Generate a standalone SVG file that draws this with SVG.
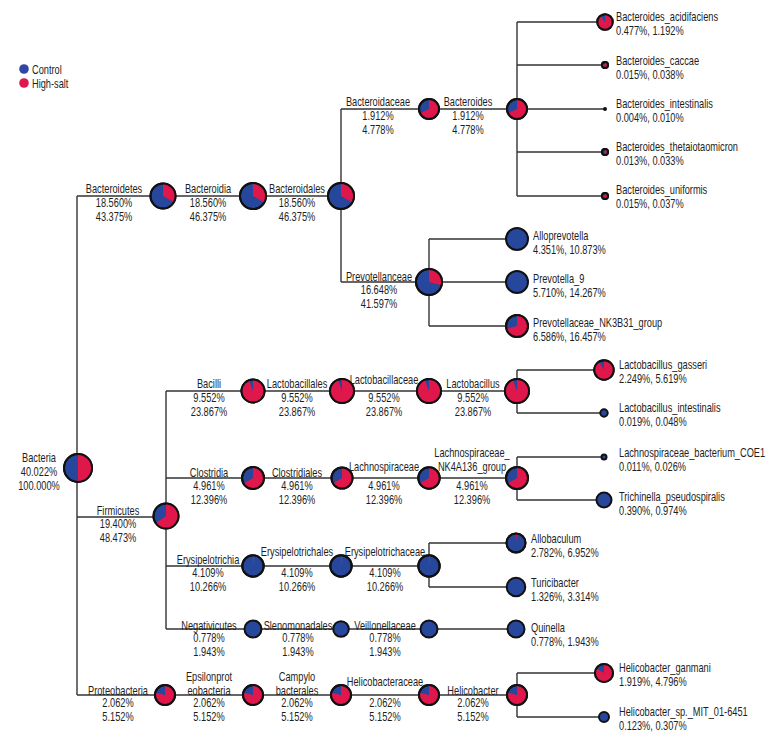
<svg xmlns="http://www.w3.org/2000/svg" width="780" height="744" viewBox="0 0 780 744">
<style>
.bg{fill:#fff}
.ln{stroke:#333;stroke-width:1.4;fill:none}
.pb{fill:#26479c;stroke:#111;stroke-width:2}
.r{fill:#e0174a}
.o{fill:none;stroke:#111;stroke-width:2}
.t{font-family:"Liberation Sans",Arial,sans-serif;font-size:12px;fill:#1e1e1e}
.m{text-anchor:middle}
</style>
<rect class="bg" x="0" y="0" width="780" height="744"/>
<g id="legend">
<circle cx="24" cy="69" r="4.8" fill="#3246a6"/>
<text class="t" transform="translate(32,73.5) scale(0.77,1)">Control</text>
<circle cx="24" cy="83" r="4.8" fill="#e0174a"/>
<text class="t" transform="translate(32,87.5) scale(0.77,1)">High-salt</text>
</g>
<g id="connectors" class="ln">
<path d="M77,196 V695"/>
<path d="M77,196 H341"/>
<path d="M341,109 V282"/>
<path d="M341,109 H517"/>
<path d="M517,22 V196"/>
<path d="M517,22 H605 M517,65 H605 M517,109 H605 M517,152 H605 M517,196 H605"/>
<path d="M341,282 H429"/>
<path d="M429,239 V326"/>
<path d="M429,239 H517 M429,282 H517 M429,326 H517"/>
<path d="M77,517 H166"/>
<path d="M166,391 V629"/>
<path d="M166,391 H517"/>
<path d="M517,370 V413 M517,370 H604 M517,413 H604"/>
<path d="M166,478 H517"/>
<path d="M517,457 V500 M517,457 H604 M517,500 H604"/>
<path d="M166,566 H429"/>
<path d="M429,543 V587 M429,543 H516 M429,587 H516"/>
<path d="M166,629 H516"/>
<path d="M77,695 H517"/>
<path d="M517,673 V717 M517,673 H604 M517,717 H604"/>
</g>
<g id="n-bacteria">
<circle class="pb" cx="78" cy="468" r="14"/>
<path class="r" d="M78,468 L78,454 A14,14 0 0 1 78,482 Z"/>
<circle class="o" cx="78" cy="468" r="14"/>
<text class="t m" transform="translate(39,462) scale(0.77,1)">Bacteria</text>
<text class="t m" transform="translate(39,476) scale(0.77,1)">40.022%</text>
<text class="t m" transform="translate(39,490) scale(0.77,1)">100.000%</text>
</g>
<g id="n-bacteroidetes">
<circle class="pb" cx="163" cy="196" r="12.5"/>
<path class="r" d="M163,196 L163,183.5 A12.5,12.5 0 0 1 173.83,202.25 Z"/>
<circle class="o" cx="163" cy="196" r="12.5"/>
<text class="t m" transform="translate(114,193) scale(0.77,1)">Bacteroidetes</text>
<text class="t m" transform="translate(114,207) scale(0.77,1)">18.560%</text>
<text class="t m" transform="translate(114,221) scale(0.77,1)">43.375%</text>
</g>
<g id="n-bacteroidia">
<circle class="pb" cx="253" cy="196" r="13"/>
<path class="r" d="M253,196 L253,183 A13,13 0 0 1 264.26,202.5 Z"/>
<circle class="o" cx="253" cy="196" r="13"/>
<text class="t m" transform="translate(208,193) scale(0.77,1)">Bacteroidia</text>
<text class="t m" transform="translate(208,207) scale(0.77,1)">18.560%</text>
<text class="t m" transform="translate(208,221) scale(0.77,1)">46.375%</text>
</g>
<g id="n-bacteroidales">
<circle class="pb" cx="341" cy="196" r="13"/>
<path class="r" d="M341,196 L341,183 A13,13 0 0 1 352.26,202.5 Z"/>
<circle class="o" cx="341" cy="196" r="13"/>
<text class="t m" transform="translate(297,193) scale(0.77,1)">Bacteroidales</text>
<text class="t m" transform="translate(297,207) scale(0.77,1)">18.560%</text>
<text class="t m" transform="translate(297,221) scale(0.77,1)">46.375%</text>
</g>
<g id="n-bacteroidaceae">
<circle class="pb" cx="429" cy="109" r="10"/>
<path class="r" d="M429,109 L429,99 A10,10 0 1 1 419.94,113.23 Z"/>
<circle class="o" cx="429" cy="109" r="10"/>
<text class="t m" transform="translate(378,106) scale(0.77,1)">Bacteroidaceae</text>
<text class="t m" transform="translate(378,120) scale(0.77,1)">1.912%</text>
<text class="t m" transform="translate(378,134) scale(0.77,1)">4.778%</text>
</g>
<g id="n-bacteroides">
<circle class="pb" cx="517" cy="109" r="10"/>
<path class="r" d="M517,109 L517,99 A10,10 0 1 1 507.94,113.23 Z"/>
<circle class="o" cx="517" cy="109" r="10"/>
<text class="t m" transform="translate(468,106) scale(0.77,1)">Bacteroides</text>
<text class="t m" transform="translate(468,120) scale(0.77,1)">1.912%</text>
<text class="t m" transform="translate(468,134) scale(0.77,1)">4.778%</text>
</g>
<g id="n-b-acidifaciens">
<circle class="pb" cx="605" cy="22" r="7.7"/>
<path class="r" d="M605,22 L605,14.3 A7.7,7.7 0 1 1 600.58,15.69 Z"/>
<circle class="o" cx="605" cy="22" r="7.7"/>
<text class="t" transform="translate(616,21) scale(0.77,1)">Bacteroides_acidifaciens</text>
<text class="t" transform="translate(616,35) scale(0.77,1)">0.477%, 1.192%</text>
</g>
<g id="n-b-caccae">
<circle class="pb" cx="605" cy="65" r="3"/>
<path class="r" d="M605,65 L605,62 A3,3 0 1 1 602.4,63.5 Z"/>
<circle class="o" cx="605" cy="65" r="3"/>
<text class="t" transform="translate(616,65) scale(0.77,1)">Bacteroides_caccae</text>
<text class="t" transform="translate(616,79) scale(0.77,1)">0.015%, 0.038%</text>
</g>
<g id="n-b-intestinalis">
<circle cx="605" cy="109" r="2" fill="#111"/>
<text class="t" transform="translate(616,108) scale(0.77,1)">Bacteroides_intestinalis</text>
<text class="t" transform="translate(616,122) scale(0.77,1)">0.004%, 0.010%</text>
</g>
<g id="n-b-thetaiotaomicron">
<circle class="pb" cx="605" cy="152" r="3"/>
<path class="r" d="M605,152 L605,149 A3,3 0 1 1 603.97,154.82 Z"/>
<circle class="o" cx="605" cy="152" r="3"/>
<text class="t" transform="translate(616,151) scale(0.77,1)">Bacteroides_thetaiotaomicron</text>
<text class="t" transform="translate(616,165) scale(0.77,1)">0.013%, 0.033%</text>
</g>
<g id="n-b-uniformis">
<circle class="pb" cx="605" cy="196" r="3"/>
<path class="r" d="M605,196 L605,193 A3,3 0 1 1 603.07,193.7 Z"/>
<circle class="o" cx="605" cy="196" r="3"/>
<text class="t" transform="translate(616,194) scale(0.77,1)">Bacteroides_uniformis</text>
<text class="t" transform="translate(616,208) scale(0.77,1)">0.015%, 0.037%</text>
</g>
<g id="n-prevotellanceae">
<circle class="pb" cx="429" cy="282" r="13"/>
<path class="r" d="M429,282 L429,269 A13,13 0 0 1 441.56,285.37 Z"/>
<circle class="o" cx="429" cy="282" r="13"/>
<text class="t m" transform="translate(379,281) scale(0.77,1)">Prevotellanceae</text>
<text class="t m" transform="translate(379,294) scale(0.77,1)">16.648%</text>
<text class="t m" transform="translate(379,308) scale(0.77,1)">41.597%</text>
</g>
<g id="n-alloprevotella">
<circle class="pb" cx="517" cy="239" r="11"/>
<text class="t" transform="translate(533,240) scale(0.77,1)">Alloprevotella</text>
<text class="t" transform="translate(533,254) scale(0.77,1)">4.351%, 10.873%</text>
</g>
<g id="n-prevotella9">
<circle class="pb" cx="517" cy="282" r="11"/>
<text class="t" transform="translate(533,283) scale(0.77,1)">Prevotella_9</text>
<text class="t" transform="translate(533,297) scale(0.77,1)">5.710%, 14.267%</text>
</g>
<g id="n-nk3b31">
<circle class="pb" cx="517" cy="326" r="11"/>
<path class="r" d="M517,326 L517,315 A11,11 0 1 1 506.37,328.85 Z"/>
<circle class="o" cx="517" cy="326" r="11"/>
<text class="t" transform="translate(533,327) scale(0.77,1)">Prevotellaceae_NK3B31_group</text>
<text class="t" transform="translate(533,341) scale(0.77,1)">6.586%, 16.457%</text>
</g>
<g id="n-firmicutes">
<circle class="pb" cx="166" cy="516" r="12.5"/>
<path class="r" d="M166,516 L166,503.5 A12.5,12.5 0 1 1 155.76,523.17 Z"/>
<circle class="o" cx="166" cy="516" r="12.5"/>
<text class="t m" transform="translate(118,515) scale(0.77,1)">Firmicutes</text>
<text class="t m" transform="translate(118,528) scale(0.77,1)">19.400%</text>
<text class="t m" transform="translate(118,542) scale(0.77,1)">48.473%</text>
</g>
<g id="n-bacilli">
<circle class="pb" cx="253" cy="391" r="11.5"/>
<path class="r" d="M253,391 L253,379.5 A11.5,11.5 0 1 1 249.07,380.19 Z"/>
<circle class="o" cx="253" cy="391" r="11.5"/>
<text class="t m" transform="translate(209,388) scale(0.77,1)">Bacilli</text>
<text class="t m" transform="translate(209,402) scale(0.77,1)">9.552%</text>
<text class="t m" transform="translate(209,416) scale(0.77,1)">23.867%</text>
</g>
<g id="n-lactobacillales">
<circle class="pb" cx="342" cy="391" r="12"/>
<path class="r" d="M342,391 L342,379 A12,12 0 1 1 337.9,379.72 Z"/>
<circle class="o" cx="342" cy="391" r="12"/>
<text class="t m" transform="translate(297,388) scale(0.77,1)">Lactobacillales</text>
<text class="t m" transform="translate(297,402) scale(0.77,1)">9.552%</text>
<text class="t m" transform="translate(297,416) scale(0.77,1)">23.867%</text>
</g>
<g id="n-lactobacillaceae">
<circle class="pb" cx="429" cy="391" r="12"/>
<path class="r" d="M429,391 L429,379 A12,12 0 1 1 424.9,379.72 Z"/>
<circle class="o" cx="429" cy="391" r="12"/>
<text class="t m" transform="translate(384,384) scale(0.77,1)">Lactobacillaceae</text>
<text class="t m" transform="translate(384,402) scale(0.77,1)">9.552%</text>
<text class="t m" transform="translate(384,416) scale(0.77,1)">23.867%</text>
</g>
<g id="n-lactobacillus">
<circle class="pb" cx="517" cy="391" r="12"/>
<path class="r" d="M517,391 L517,379 A12,12 0 1 1 512.9,379.72 Z"/>
<circle class="o" cx="517" cy="391" r="12"/>
<text class="t m" transform="translate(473,388) scale(0.77,1)">Lactobacillus</text>
<text class="t m" transform="translate(473,402) scale(0.77,1)">9.552%</text>
<text class="t m" transform="translate(473,416) scale(0.77,1)">23.867%</text>
</g>
<g id="n-l-gasseri">
<circle class="pb" cx="604" cy="370" r="9.7"/>
<path class="r" d="M604,370 L604,360.3 A9.7,9.7 0 1 1 599.15,361.6 Z"/>
<circle class="o" cx="604" cy="370" r="9.7"/>
<text class="t" transform="translate(619,369) scale(0.77,1)">Lactobacillus_gasseri</text>
<text class="t" transform="translate(619,383) scale(0.77,1)">2.249%, 5.619%</text>
</g>
<g id="n-l-intestinalis">
<circle class="pb" cx="604" cy="413" r="3.7"/>
<text class="t" transform="translate(619,412) scale(0.77,1)">Lactobacillus_intestinalis</text>
<text class="t" transform="translate(619,426) scale(0.77,1)">0.019%, 0.048%</text>
</g>
<g id="n-clostridia">
<circle class="pb" cx="253" cy="478" r="11"/>
<path class="r" d="M253,478 L253,467 A11,11 0 1 1 243.47,483.5 Z"/>
<circle class="o" cx="253" cy="478" r="11"/>
<text class="t m" transform="translate(209,477) scale(0.77,1)">Clostridia</text>
<text class="t m" transform="translate(209,490) scale(0.77,1)">4.961%</text>
<text class="t m" transform="translate(209,504) scale(0.77,1)">12.396%</text>
</g>
<g id="n-clostridiales">
<circle class="pb" cx="342" cy="478" r="10.5"/>
<path class="r" d="M342,478 L342,467.5 A10.5,10.5 0 1 1 332.91,483.25 Z"/>
<circle class="o" cx="342" cy="478" r="10.5"/>
<text class="t m" transform="translate(297,477) scale(0.77,1)">Clostridiales</text>
<text class="t m" transform="translate(297,490) scale(0.77,1)">4.961%</text>
<text class="t m" transform="translate(297,504) scale(0.77,1)">12.396%</text>
</g>
<g id="n-lachnospiraceae">
<circle class="pb" cx="429" cy="478" r="10.7"/>
<path class="r" d="M429,478 L429,467.3 A10.7,10.7 0 1 1 419.73,483.35 Z"/>
<circle class="o" cx="429" cy="478" r="10.7"/>
<text class="t m" transform="translate(384,471) scale(0.77,1)">Lachnospiraceae</text>
<text class="t m" transform="translate(384,490) scale(0.77,1)">4.961%</text>
<text class="t m" transform="translate(384,504) scale(0.77,1)">12.396%</text>
</g>
<g id="n-nk4a136">
<circle class="pb" cx="517" cy="478" r="11"/>
<path class="r" d="M517,478 L517,467 A11,11 0 1 1 507.47,483.5 Z"/>
<circle class="o" cx="517" cy="478" r="11"/>
<text class="t m" transform="translate(472,457) scale(0.77,1)">Lachnospiraceae_</text>
<text class="t m" transform="translate(472,471) scale(0.77,1)">NK4A136_group</text>
<text class="t m" transform="translate(472,490) scale(0.77,1)">4.961%</text>
<text class="t m" transform="translate(472,504) scale(0.77,1)">12.396%</text>
</g>
<g id="n-coe1">
<circle class="pb" cx="604" cy="457" r="2.5"/>
<text class="t" transform="translate(619,457) scale(0.77,1)">Lachnospiraceae_bacterium_COE1</text>
<text class="t" transform="translate(619,471) scale(0.77,1)">0.011%, 0.026%</text>
</g>
<g id="n-pseudospiralis">
<circle class="pb" cx="604" cy="500" r="7.5"/>
<text class="t" transform="translate(619,501) scale(0.77,1)">Trichinella_pseudospiralis</text>
<text class="t" transform="translate(619,515) scale(0.77,1)">0.390%, 0.974%</text>
</g>
<g id="n-erysipelotrichia">
<circle class="pb" cx="253" cy="566" r="10.7"/>
<path class="r" d="M253,566 L253,555.3 A10.7,10.7 0 0 1 254.12,555.36 Z"/>
<circle class="o" cx="253" cy="566" r="10.7"/>
<text class="t m" transform="translate(208,564) scale(0.77,1)">Erysipelotrichia</text>
<text class="t m" transform="translate(208,577) scale(0.77,1)">4.109%</text>
<text class="t m" transform="translate(208,591) scale(0.77,1)">10.266%</text>
</g>
<g id="n-erysipelotrichales">
<circle class="pb" cx="341" cy="566" r="10.7"/>
<path class="r" d="M341,566 L341,555.3 A10.7,10.7 0 0 1 342.12,555.36 Z"/>
<circle class="o" cx="341" cy="566" r="10.7"/>
<text class="t m" transform="translate(297,556) scale(0.77,1)">Erysipelotrichales</text>
<text class="t m" transform="translate(297,577) scale(0.77,1)">4.109%</text>
<text class="t m" transform="translate(297,591) scale(0.77,1)">10.266%</text>
</g>
<g id="n-erysipelotrichaceae">
<circle class="pb" cx="429" cy="566" r="10.7"/>
<path class="r" d="M429,566 L429,555.3 A10.7,10.7 0 0 1 430.12,555.36 Z"/>
<circle class="o" cx="429" cy="566" r="10.7"/>
<text class="t m" transform="translate(385,556) scale(0.77,1)">Erysipelotrichaceae</text>
<text class="t m" transform="translate(385,577) scale(0.77,1)">4.109%</text>
<text class="t m" transform="translate(385,591) scale(0.77,1)">10.266%</text>
</g>
<g id="n-allobaculum">
<circle class="pb" cx="516" cy="543" r="9.5"/>
<path class="r" d="M516,543 L516,533.5 A9.5,9.5 0 0 1 516.99,533.55 Z"/>
<circle class="o" cx="516" cy="543" r="9.5"/>
<text class="t" transform="translate(531,543) scale(0.77,1)">Allobaculum</text>
<text class="t" transform="translate(531,557) scale(0.77,1)">2.782%, 6.952%</text>
</g>
<g id="n-turicibacter">
<circle class="pb" cx="516" cy="587" r="9.3"/>
<text class="t" transform="translate(531,587) scale(0.77,1)">Turicibacter</text>
<text class="t" transform="translate(531,601) scale(0.77,1)">1.326%, 3.314%</text>
</g>
<g id="n-negativicutes">
<circle class="pb" cx="253" cy="629" r="8.5"/>
<text class="t m" transform="translate(209,630) scale(0.77,1)">Negativicutes</text>
<text class="t m" transform="translate(209,642) scale(0.77,1)">0.778%</text>
<text class="t m" transform="translate(209,656) scale(0.77,1)">1.943%</text>
</g>
<g id="n-slenomonadales">
<circle class="pb" cx="341" cy="629" r="7.8"/>
<text class="t m" transform="translate(298,630) scale(0.77,1)">Slenomonadales</text>
<text class="t m" transform="translate(298,642) scale(0.77,1)">0.778%</text>
<text class="t m" transform="translate(298,656) scale(0.77,1)">1.943%</text>
</g>
<g id="n-veillonellaceae">
<circle class="pb" cx="429" cy="629" r="8.5"/>
<text class="t m" transform="translate(385,630) scale(0.77,1)">Veillonellaceae</text>
<text class="t m" transform="translate(385,642) scale(0.77,1)">0.778%</text>
<text class="t m" transform="translate(385,656) scale(0.77,1)">1.943%</text>
</g>
<g id="n-quinella">
<circle class="pb" cx="516" cy="629" r="8.5"/>
<text class="t" transform="translate(531,632) scale(0.77,1)">Quinella</text>
<text class="t" transform="translate(531,646) scale(0.77,1)">0.778%, 1.943%</text>
</g>
<g id="n-proteobacteria">
<circle class="pb" cx="165" cy="695" r="10"/>
<path class="r" d="M165,695 L165,685 A10,10 0 1 1 155.34,692.41 Z"/>
<circle class="o" cx="165" cy="695" r="10"/>
<text class="t m" transform="translate(118,695) scale(0.77,1)">Proteobacteria</text>
<text class="t m" transform="translate(118,707) scale(0.77,1)">2.062%</text>
<text class="t m" transform="translate(118,721) scale(0.77,1)">5.152%</text>
</g>
<g id="n-epsilonproteobacteria">
<circle class="pb" cx="253" cy="695" r="10"/>
<path class="r" d="M253,695 L253,685 A10,10 0 1 1 243.34,692.41 Z"/>
<circle class="o" cx="253" cy="695" r="10"/>
<text class="t m" transform="translate(209,681) scale(0.77,1)">Epsilonprot</text>
<text class="t m" transform="translate(209,695) scale(0.77,1)">eobacteria</text>
<text class="t m" transform="translate(209,707) scale(0.77,1)">2.062%</text>
<text class="t m" transform="translate(209,721) scale(0.77,1)">5.152%</text>
</g>
<g id="n-campylobacterales">
<circle class="pb" cx="341" cy="695" r="10"/>
<path class="r" d="M341,695 L341,685 A10,10 0 1 1 331.34,692.41 Z"/>
<circle class="o" cx="341" cy="695" r="10"/>
<text class="t m" transform="translate(297,681) scale(0.77,1)">Campylo</text>
<text class="t m" transform="translate(297,695) scale(0.77,1)">bacterales</text>
<text class="t m" transform="translate(297,707) scale(0.77,1)">2.062%</text>
<text class="t m" transform="translate(297,721) scale(0.77,1)">5.152%</text>
</g>
<g id="n-helicobacteraceae">
<circle class="pb" cx="429" cy="695" r="10"/>
<path class="r" d="M429,695 L429,685 A10,10 0 1 1 419.34,692.41 Z"/>
<circle class="o" cx="429" cy="695" r="10"/>
<text class="t m" transform="translate(385,686) scale(0.77,1)">Helicobacteraceae</text>
<text class="t m" transform="translate(385,707) scale(0.77,1)">2.062%</text>
<text class="t m" transform="translate(385,721) scale(0.77,1)">5.152%</text>
</g>
<g id="n-helicobacter">
<circle class="pb" cx="517" cy="695" r="10"/>
<path class="r" d="M517,695 L517,685 A10,10 0 1 1 507.34,692.41 Z"/>
<circle class="o" cx="517" cy="695" r="10"/>
<text class="t m" transform="translate(473,695) scale(0.77,1)">Helicobacter</text>
<text class="t m" transform="translate(473,707) scale(0.77,1)">2.062%</text>
<text class="t m" transform="translate(473,721) scale(0.77,1)">5.152%</text>
</g>
<g id="n-h-ganmani">
<circle class="pb" cx="604" cy="673" r="9"/>
<path class="r" d="M604,673 L604,664 A9,9 0 1 1 596.21,668.5 Z"/>
<circle class="o" cx="604" cy="673" r="9"/>
<text class="t" transform="translate(619,672) scale(0.77,1)">Helicobacter_ganmani</text>
<text class="t" transform="translate(619,686) scale(0.77,1)">1.919%, 4.796%</text>
</g>
<g id="n-h-sp">
<circle class="pb" cx="604" cy="717" r="5"/>
<text class="t" transform="translate(619,716) scale(0.77,1)">Helicobacter_sp._MIT_01-6451</text>
<text class="t" transform="translate(619,730) scale(0.77,1)">0.123%, 0.307%</text>
</g>
</svg>
